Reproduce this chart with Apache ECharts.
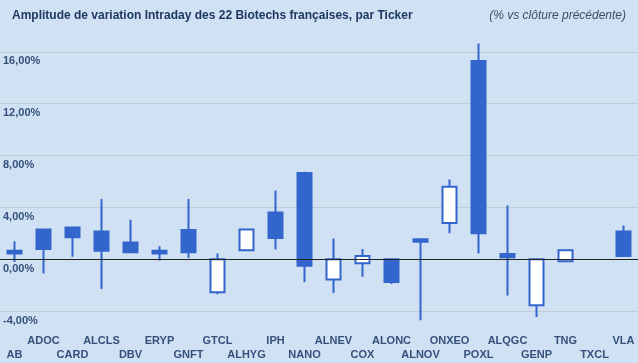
<!DOCTYPE html>
<html><head><meta charset="utf-8">
<script src="https://cdn.jsdelivr.net/npm/echarts@6/dist/echarts.min.js"></script>
<style>html,body{margin:0;padding:0;background:#cfe1f3}#c{width:638px;height:363px}</style>
</head><body><div id="c"></div>
<script>
const tickers = ['AB','ADOC','CARD','ALCLS','DBV','ERYP','GNFT','GTCL','ALHYG','IPH','NANO','ALNEV','COX','ALONC','ALNOV','ONXEO','POXL','ALQGC','GENP','TNG','TXCL','VLA'];
const openVals  = [0.65, 2.3, 2.45, 2.15, 1.3, 0.65, 2.25, -2.55, 0.7, 3.6, 6.65, -1.55, -0.3, 0, 1.55, 2.8, 15.3, 0.4, -3.55, -0.15, null, 2.15];
const closeVals = [0.45, 0.8, 1.7, 0.65, 0.55, 0.45, 0.55, 0, 2.3, 1.65, -0.5, 0, 0.25, -1.75, 1.35, 5.6, 2.0, 0.15, 0, 0.7, null, 0.25];
const lowVals   = [-0.2, -1.1, 0.2, -2.3, 0.55, -0.1, 0.1, -2.7, 0.7, 0.75, -1.75, -2.6, -1.35, -1.9, -4.7, 2.0, 0.45, -2.8, -4.45, -0.15, null, 0.25];
const highVals  = [1.4, 2.3, 2.45, 4.65, 3.05, 1.0, 4.65, 0.45, 2.3, 5.3, 6.75, 1.6, 0.8, 0, 1.55, 6.15, 16.65, 4.15, 0, 0.7, null, 2.6];
const yMin = -8, yMax = 20, yStep = 4;

const blue = '#3366cc';
const labelColor = '#36507c';
const gridColor = '#c4cad1';
const data = tickers.map((t, i) => openVals[i] === null ? '-' : [openVals[i], closeVals[i], lowVals[i], highVals[i]]);
const nLines = Math.round((yMax - yMin) / yStep) + 1;
const splitColors = Array.from({length: nLines}, (_, k) => (k === 0 || k === nLines - 1) ? 'rgba(0,0,0,0)' : gridColor);

const chart = echarts.init(document.getElementById('c'), null, {renderer: 'canvas'});
chart.setOption({
  animation: false,
  backgroundColor: '#cfe1f3',
  textStyle: {fontFamily: 'Liberation Sans, Arial, sans-serif'},
  title: [
    {text: 'Amplitude de variation Intraday des 22 Biotechs françaises, par Ticker', left: 7, top: 5,
     textStyle: {fontSize: 12, fontWeight: 'bold', color: '#1f3862', fontFamily: 'Liberation Sans'}},
    {text: '(% vs clôture précédente)', right: 7, top: 5,
     textStyle: {fontSize: 12, fontWeight: 'normal', fontStyle: 'italic', color: '#3d4d68', fontFamily: 'Liberation Sans'}}
  ],
  grid: {left: 0, right: 0, top: -1, bottom: 0, containLabel: false},
  xAxis: {
    type: 'category', data: tickers, boundaryGap: true,
    offset: -29,
    axisLine: {show: false}, axisTick: {show: false}, splitLine: {show: false},
    axisLabel: {interval: 0, margin: 0, fontSize: 11, fontWeight: 'bold', color: labelColor, lineHeight: 14,
      verticalAlign: 'top',
      formatter: (v, i) => (i % 2 === 0 ? '\n' + v : v)}
  },
  yAxis: {
    type: 'value', min: yMin, max: yMax, interval: yStep,
    axisLine: {show: false}, axisTick: {show: false},
    splitLine: {lineStyle: {color: splitColors, width: 1}},
    axisLabel: {inside: true, margin: 3, fontSize: 11, fontWeight: 'bold', color: labelColor,
      verticalAlign: 'top', padding: [4, 0, 0, 0],
      formatter: v => (v <= yMin || v >= yMax) ? '' : v.toFixed(2).replace('.', ',') + '%'}
  },
  series: [{
    type: 'candlestick', data: data, barWidth: 15,
    itemStyle: {color: '#ffffff', color0: blue, borderColor: blue, borderColor0: blue, borderWidth: 2},
    markLine: {silent: true, symbol: 'none', label: {show: false},
      lineStyle: {color: '#222', width: 1, type: 'solid'}, data: [{yAxis: 0}]}
  }]
});
</script></body></html>
